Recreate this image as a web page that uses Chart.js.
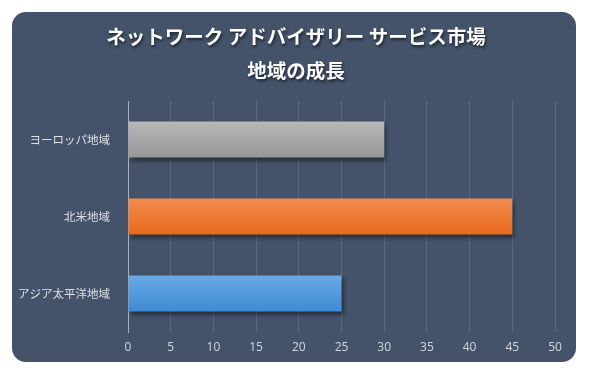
<!DOCTYPE html>
<html>
<head>
<meta charset="utf-8">
<script src="https://cdn.jsdelivr.net/npm/chart.js@4"></script>
<style>
  html, body { margin: 0; padding: 0; background: #fff; }
  #wrap { width: 594px; height: 381px; }
</style>
</head>
<body>
<div id="wrap"><canvas id="growthChart" width="594" height="381"></canvas></div>
<script>
// Chart data
const regions = ['ヨーロッパ地域', '北米地域', 'アジア太平洋地域'];
const growth = [30, 45, 25];
const xMax = 50;
const xStep = 5;
const titleLines = ['ネットワーク アドバイザリー サービス市場', '地域の成長'];

// top / bottom colours of each bar gradient
const barTop = ['#b8b8b8', '#f28c50', '#6aa9e6'];
const barBottom = ['#979797', '#e86a1c', '#3e8bd3'];

const ctx = document.getElementById('growthChart').getContext('2d');

// rounded dark card behind the chart, plus the centred title
const cardBackground = {
  id: 'cardBackground',
  beforeDraw(chart) {
    const c = chart.ctx;
    c.save();
    c.fillStyle = '#44536a';
    c.beginPath();
    c.roundRect(12, 12, 564, 350, 14);
    c.fill();

    c.font = 'bold 19.5px "Noto Sans CJK JP"';
    c.fillStyle = '#ffffff';
    c.textAlign = 'center';
    c.textBaseline = 'middle';
    c.shadowColor = 'rgba(0, 0, 0, 0.6)';
    c.shadowOffsetX = 1;
    c.shadowOffsetY = 2;
    c.shadowBlur = 3;
    titleLines.forEach((line, i) => c.fillText(line, 296, 37 + i * 34));
    c.restore();
  }
};

// drop shadow under the bars
const barShadow = {
  id: 'barShadow',
  beforeDatasetsDraw(chart) {
    const c = chart.ctx;
    c.save();
    c.shadowColor = 'rgba(0, 0, 0, 0.45)';
    c.shadowOffsetX = 2;
    c.shadowOffsetY = 3;
    c.shadowBlur = 4;
  },
  afterDatasetsDraw(chart) {
    chart.ctx.restore();
  }
};

function barGradient(context) {
  const chart = context.chart;
  const i = context.dataIndex;
  if (!chart.chartArea || !chart.scales.y) return barBottom[i];
  const mid = chart.scales.y.getPixelForValue(i);
  const g = chart.ctx.createLinearGradient(0, mid - 18, 0, mid + 18);
  g.addColorStop(0, barTop[i]);
  g.addColorStop(1, barBottom[i]);
  return g;
}

new Chart(ctx, {
  type: 'bar',
  data: {
    labels: regions,
    datasets: [{
      data: growth,
      backgroundColor: barGradient,
      borderWidth: 0,
      barPercentage: 0.47,
      categoryPercentage: 1
    }]
  },
  options: {
    indexAxis: 'y',
    responsive: false,
    animation: false,
    layout: { padding: { left: 12, right: 39, top: 101, bottom: 19 } },
    plugins: {
      legend: { display: false },
      tooltip: { enabled: false },
      title: { display: false }
    },
    scales: {
      x: {
        min: 0,
        max: xMax,
        ticks: {
          stepSize: xStep,
          color: '#d2d7df',
          font: { family: '"Open Sans"', size: 12 },
          padding: 8
        },
        grid: { color: '#5b6880', drawTicks: false },
        border: { display: false },
        afterFit(scale) { scale.height = 30; }
      },
      y: {
        ticks: {
          color: '#dde1e7',
          font: { family: '"Noto Sans CJK JP"', size: 11.5 },
          padding: 10
        },
        grid: { display: false },
        border: { display: true, color: '#aab2c0', width: 1 },
        afterFit(scale) { scale.width = 116; }
      }
    }
  },
  plugins: [cardBackground, barShadow]
});
</script>
</body>
</html>
